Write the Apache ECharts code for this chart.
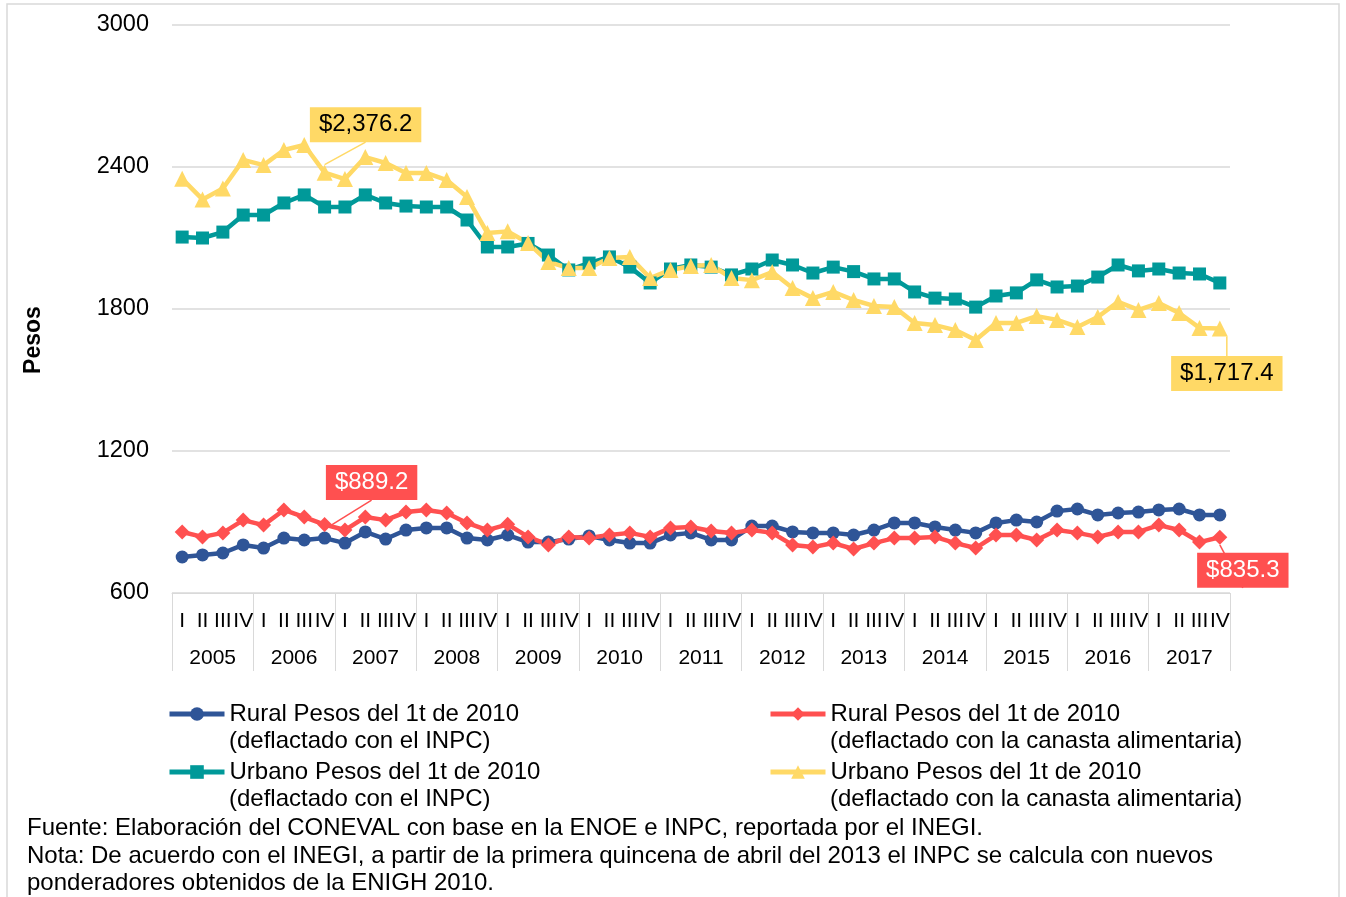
<!DOCTYPE html>
<html>
<head>
<meta charset="utf-8">
<script src="https://cdn.jsdelivr.net/npm/echarts@6/dist/echarts.min.js"></script>
<style>
  html, body { margin: 0; padding: 0; background: #fff; }
  #chart { width: 1346px; height: 897px; }
</style>
</head>
<body>
<div id="chart"></div>
<script>
// Quarters and years on the x axis
const years = ['2005', '2006', '2007', '2008', '2009', '2010', '2011', '2012', '2013', '2014', '2015', '2016', '2017'];
const quarterNames = ['I', 'II', 'III', 'IV'];
const quarters = years.flatMap(() => quarterNames);

// Values (pesos del 1t de 2010)
const ruralInpc = [752, 761, 769, 803, 790, 832, 824, 832, 811, 858, 828, 866, 875, 875, 832, 824, 845,
  815, 815, 828, 841, 824, 811, 811, 845, 854, 824, 824, 883, 883, 858, 854, 854, 845,
  866, 896, 896, 879, 866, 854, 896, 908, 900, 946, 955, 930, 938, 942, 951, 955, 930, 930];
const ruralCanasta = [858, 837, 854, 908, 887, 951, 921, 889.2, 866, 921, 908, 942, 951, 938, 896, 866, 890,
  837, 803, 837, 832, 845, 854, 837, 875, 879, 862, 854, 866, 854, 803, 794, 811, 786,
  811, 832, 832, 837, 811, 790, 845, 845, 824, 866, 854, 837, 858, 858, 887, 866, 815, 835.3];
const urbanoInpc = [2104, 2100, 2125, 2197, 2197, 2248, 2282, 2231, 2231, 2282, 2248, 2235, 2231, 2231, 2176, 2062, 2062,
  2077, 2028, 1965, 1994, 2020, 1977, 1910, 1969, 1986, 1977, 1944, 1969, 2007, 1986, 1952, 1977, 1958,
  1927, 1927, 1872, 1846, 1842, 1808, 1855, 1868, 1923, 1893, 1897, 1935, 1986, 1961, 1969, 1952, 1948, 1910];
const urbanoCanasta = [2350, 2263, 2309, 2430, 2408, 2472, 2493, 2376.2, 2349, 2442, 2417, 2375, 2375, 2345, 2273, 2121, 2128,
  2079, 1999, 1973, 1973, 2015, 2020, 1931, 1965, 1982, 1986, 1931, 1922, 1956, 1889, 1846, 1872, 1838,
  1813, 1808, 1741, 1732, 1711, 1669, 1741, 1741, 1770, 1754, 1724, 1766, 1830, 1796, 1825, 1783, 1720, 1717.4];

// which points carry a callout: [index, offsetX, offsetY]
const ruralCanastaCallouts = [[7, 47, -42], [51, 23, 33]];
const urbanoCanastaCallouts = [[7, 41, -48], [51, 7, 45]];

const FONT = '"Liberation Sans", Arial, sans-serif';
const GRAY = '#d9d9d9';

const names = [
  'Rural Pesos del 1t de 2010\n(deflactado con el INPC)',
  'Rural Pesos del 1t de 2010\n(deflactado con la canasta alimentaria)',
  'Urbano Pesos del 1t de 2010\n(deflactado con el INPC)',
  'Urbano Pesos del 1t de 2010\n(deflactado con la canasta alimentaria)'
];

function money(v) {
  const parts = v.toFixed(1).split('.');
  return '$' + parts[0].replace(/\B(?=(\d{3})+(?!\d))/g, ',') + '.' + parts[1];
}

function withCallouts(values, callouts, bg, fg) {
  return values.map((v, i) => {
    const c = callouts.find((c) => c[0] === i);
    if (!c) return v;
    return {
      value: v,
      label: {
        show: true,
        position: 'inside',
        offset: [c[1], c[2]],
        formatter: () => money(v),
        backgroundColor: bg,
        color: fg,
        fontSize: 24,
        fontFamily: FONT,
        padding: [6, 9, 5, 9]
      },
      labelLine: { show: true, lineStyle: { color: bg, width: 1.5 } }
    };
  });
}

function lineSeries(name, data, color, symbol, size) {
  return {
    name: name,
    type: 'line',
    data: data,
    symbol: symbol,
    symbolSize: size,
    lineStyle: { color: color, width: 4.5 },
    itemStyle: { color: color },
    emphasis: { disabled: true },
    animation: false
  };
}

function legendCol(left, data) {
  return {
    orient: 'vertical',
    left: left,
    top: 700,
    padding: 0,
    itemWidth: 55,
    itemHeight: 17,
    itemGap: 30,
    data: data,
    lineStyle: { width: 5 },
    formatter: (n) => n.split('\n')[0],
    textStyle: { fontSize: 24, fontFamily: FONT, color: '#000', lineHeight: 28 }
  };
}

function note(x, y, text) {
  return { type: 'text', left: x, top: y, style: { text: text, font: '24px ' + FONT, fill: '#000' } };
}

const chart = echarts.init(document.getElementById('chart'));

const option = {
  backgroundColor: '#fff',
  grid: { left: 172, right: 116, top: 25, bottom: 304, containLabel: false },
  xAxis: [
    {
      type: 'category',
      data: quarters,
      position: 'bottom',
      axisLine: { show: true, lineStyle: { color: GRAY, width: 1 } },
      axisTick: { show: false },
      axisLabel: { interval: 0, color: '#000', fontSize: 21, fontFamily: FONT, margin: 18, hideOverlap: false }
    },
    {
      type: 'category',
      data: years,
      position: 'bottom',
      axisLine: { show: false },
      axisTick: { show: true, interval: 0, length: 78, lineStyle: { color: GRAY, width: 1 } },
      axisLabel: { interval: 0, color: '#000', fontSize: 21, fontFamily: FONT, margin: 55 }
    }
  ],
  yAxis: {
    type: 'value',
    min: 600,
    max: 3000,
    interval: 600,
    name: 'Pesos',
    nameLocation: 'middle',
    nameGap: 127,
    nameTextStyle: { fontSize: 23, fontWeight: 'bold', color: '#000', fontFamily: FONT, padding: [0, 62, 0, 0] },
    axisLine: { show: false },
    axisTick: { show: false },
    axisLabel: { color: '#000', fontSize: 23.5, fontFamily: FONT, margin: 23, formatter: (v) => String(v) },
    splitLine: { lineStyle: { color: GRAY, width: 1.5 } }
  },
  legend: [
    legendCol(167, [names[0], names[2]]),
    legendCol(768, [names[1], names[3]])
  ],
  graphic: [
    { type: 'rect', shape: { x: 7, y: 4, width: 1332, height: 900 }, style: { fill: 'none', stroke: GRAY, lineWidth: 1.5 }, silent: true },
    note(229, 729, names[0].split('\n')[1]),
    note(229, 787, names[2].split('\n')[1]),
    note(830, 729, names[1].split('\n')[1]),
    note(830, 787, names[3].split('\n')[1]),
    note(27, 816, 'Fuente: Elaboración del CONEVAL con base en la ENOE e INPC, reportada por el INEGI.'),
    note(27, 844, 'Nota: De acuerdo con el INEGI, a partir de la primera quincena de abril del 2013 el INPC se calcula con nuevos'),
    note(27, 871, 'ponderadores obtenidos de la ENIGH 2010.')
  ],
  series: [
    lineSeries(names[0], ruralInpc, '#2f5597', 'circle', 13),
    lineSeries(names[2], urbanoInpc, '#009999', 'rect', 13),
    lineSeries(names[1], withCallouts(ruralCanasta, ruralCanastaCallouts, '#ff5050', '#fff'), '#ff5050', 'diamond', 15),
    lineSeries(names[3], withCallouts(urbanoCanasta, urbanoCanastaCallouts, '#ffd966', '#000'), '#ffd966', 'triangle', 16)
  ]
};

chart.setOption(option);
window.addEventListener('resize', () => chart.resize());
</script>
</body>
</html>
